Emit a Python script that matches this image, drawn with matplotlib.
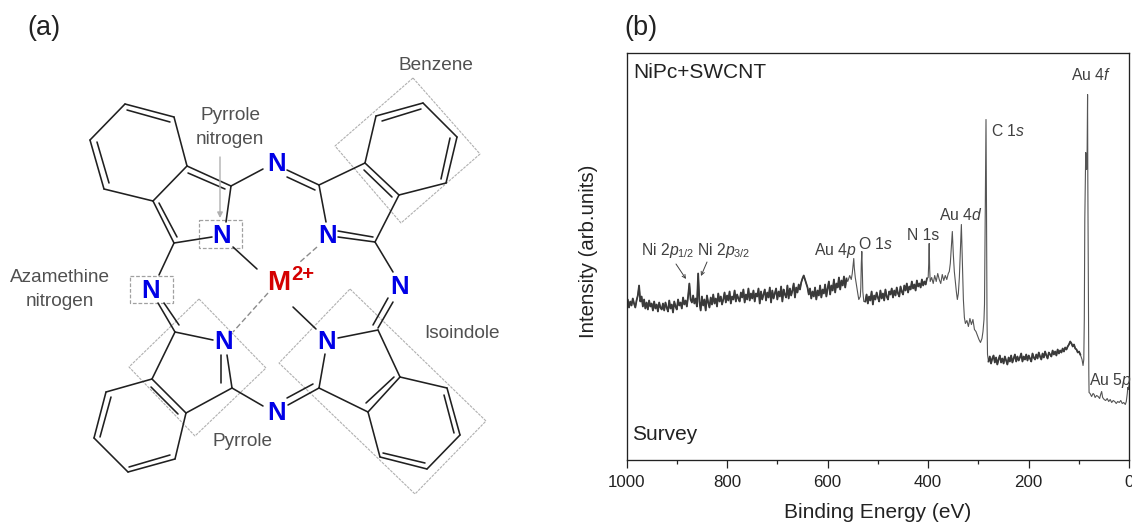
#!/usr/bin/python3
import matplotlib
matplotlib.use('Agg')

import matplotlib.pyplot as plt
import numpy as np

plt.rcParams['font.family'] = ['Liberation Sans', 'DejaVu Sans']
plt.rcParams['mathtext.fontset'] = 'custom'
plt.rcParams['mathtext.rm'] = 'Liberation Sans'
plt.rcParams['mathtext.it'] = 'Liberation Sans:italic'

# Survey spectrum. Noisy stretches are on a regular energy grid.
be_low = np.linspace(1000, 562.5, 176)
counts_low = [
    153, 160, 152, 158, 154, 161, 156, 152, 159, 164,
    174, 158, 163, 153, 160, 151, 157, 150, 159, 153,
    156, 149, 158, 151, 155, 148, 157, 152, 150, 156,
    149, 157, 152, 148, 159, 151, 155, 147, 158, 153,
    150, 160, 154, 157, 151, 162, 155, 159, 153, 163,
    176, 160, 157, 164, 156, 161, 153, 186, 158, 149,
    163, 154, 160, 149, 164, 157, 152, 162, 155, 165,
    156, 161, 153, 166, 158, 163, 155, 160, 167, 157,
    164, 159, 168, 156, 163, 160, 169, 158, 165, 161,
    158, 167, 162, 170, 157, 165, 160, 171, 159, 166,
    161, 169, 158, 166, 163, 171, 156, 168, 160, 165,
    170, 159, 167, 162, 172, 157, 169, 161, 166, 171,
    160, 168, 163, 173, 158, 170, 165, 162, 174, 161,
    171, 164, 169, 176, 162, 172, 167, 175, 170, 177,
    181, 184, 180, 176, 172, 165, 171, 161, 168, 163,
    172, 160, 169, 164, 174, 162, 170, 166, 175, 163,
    171, 178, 165, 174, 169, 180, 167, 176, 172, 182,
    170, 179, 174, 183, 172, 181,
]

be_o1s = [560, 556, 553, 551, 549, 548, 547, 545, 542, 540, 538, 535, 534, 533, 532, 531, 530, 528]
counts_o1s = [178, 184, 180, 186, 196, 201, 192, 182, 172, 166, 160, 163, 172, 196, 208, 190, 168, 158]

be_mid = np.linspace(525, 402.5, 50)
counts_mid = [
    158, 165, 156, 163, 159, 168, 155, 164, 160, 167,
    162, 158, 169, 161, 166, 159, 170, 163, 160, 168,
    165, 171, 162, 169, 164, 172, 166, 163, 173, 168,
    165, 174, 169, 176, 167, 173, 170, 178, 171, 175,
    169, 179, 173, 176, 172, 180, 174, 178, 175, 181,
]

be_au4d = [400, 399, 398, 397, 396, 393, 390, 387, 384, 381, 378, 375, 372, 369, 366, 363, 360,
           358, 356, 354, 352, 350, 348, 346, 344, 342, 340, 338, 336, 334, 332, 330, 328, 326,
           323, 320, 317, 314, 311, 308, 305, 302, 299, 296, 293, 291, 289, 288, 287, 286, 285, 284, 283, 282]
counts_au4d = [182, 195, 216, 190, 178, 182, 176, 184, 178, 186, 180, 176, 185, 179, 184, 180, 186,
               188, 196, 212, 228, 205, 188, 178, 168, 160, 166, 182, 208, 235, 196, 160, 142, 136,
               139, 133, 141, 135, 140, 130, 128, 124, 120, 117, 121, 128, 140, 155, 215, 285, 340, 250, 140, 105]

be_plateau = np.linspace(280, 97.5, 74)
counts_plateau = [
    98, 103, 96, 101, 104, 97, 102, 95, 100, 104,
    97, 101, 96, 103, 99, 95, 102, 98, 104, 97,
    101, 105, 98, 103, 99, 102, 106, 98, 103, 100,
    105, 99, 104, 101, 98, 106, 102, 100, 105, 101,
    107, 103, 100, 106, 102, 108, 104, 101, 107, 105,
    103, 109, 105, 108, 104, 110, 106, 109, 107, 111,
    108, 112, 110, 113, 115, 118, 116, 113, 115, 111,
    110, 107, 108, 105,
]

be_au4f = [94, 92, 90.5, 89.5, 88.5, 86.7, 86, 85, 84, 83, 82.5, 81, 80.5, 80]
counts_au4f = [100, 94, 100, 140, 240, 307, 300, 290, 300, 365, 280, 120, 85, 67]

be_au5p = [78, 75, 72, 70, 68, 65, 62, 59, 57, 55, 53, 50, 47, 44, 41, 38, 35, 32, 29, 26, 23, 20, 17, 14, 11, 8, 6, 4, 3, 2, 1, 0]
counts_au5p = [66, 63, 66, 65, 62, 64, 63, 61, 65, 68, 62, 60, 59, 61, 58, 60, 57, 59, 58, 56, 58, 57, 59, 56, 57, 55, 58, 66, 72, 70, 73, 75]

xticks_major = [1000, 800, 600, 400, 200, 0]
xticks_minor = [900, 700, 500, 300, 100]

# Phthalocyanine sketch, in picture pixels: bonds, dashed bonds, atoms and region boxes
bonds = [
    # top left unit
    ((125, 104), (174, 117)), ((174, 117), (187, 166)), ((187, 166), (153, 201)),
    ((153, 201), (104, 189)), ((104, 189), (90, 140)), ((90, 140), (125, 104)),
    ((127, 110), (170, 122)), ((97, 142), (109, 183)),
    ((187, 166), (231, 186)), ((188, 173), (225, 189)), ((231, 186), (226, 222)),
    ((153, 201), (174, 243)), ((159, 203), (177, 237)), ((174, 243), (212, 237)),
    ((174, 243), (159, 275)), ((233, 247), (257, 269)), ((231, 186), (263, 169)),
    ((287, 170), (319, 185)), ((287, 177), (315, 190)),
    # top right unit
    ((319, 185), (326, 222)), ((319, 185), (365, 163)),
    ((365, 163), (399, 195)), ((364, 170), (392, 197)), ((399, 195), (375, 242)),
    ((338, 231), (373, 237)), ((338, 237), (375, 242)), ((375, 242), (393, 272)),
    ((365, 163), (376, 116)), ((376, 116), (423, 103)), ((423, 103), (457, 137)),
    ((457, 137), (446, 183)), ((446, 183), (399, 195)),
    ((382, 121), (421, 109)), ((450, 138), (441, 179)),
    # bottom left unit
    ((158, 303), (175, 332)), ((164, 303), (179, 325)), ((175, 332), (213, 340)),
    ((175, 332), (152, 379)), ((152, 379), (186, 413)), ((151, 387), (178, 414)),
    ((152, 379), (106, 392)), ((106, 392), (94, 438)), ((94, 438), (128, 472)),
    ((128, 472), (175, 459)), ((175, 459), (186, 413)),
    ((111, 397), (100, 437)), ((129, 467), (170, 455)),
    ((186, 413), (232, 388)), ((221, 355), (221, 383)), ((227, 355), (232, 388)),
    ((232, 388), (263, 406)),
    # bottom right unit
    ((287, 398), (313, 384)), ((288, 405), (319, 388)), ((319, 388), (325, 354)),
    ((319, 388), (368, 412)), ((368, 412), (400, 377)), ((366, 403), (394, 377)),
    ((378, 330), (400, 377)), ((338, 338), (378, 330)),
    ((373, 325), (388, 298)), ((378, 328), (393, 302)),
    ((400, 377), (447, 388)), ((447, 388), (460, 435)), ((460, 435), (427, 469)),
    ((427, 469), (380, 457)), ((380, 457), (368, 412)),
    ((444, 395), (454, 433)), ((383, 453), (425, 463)),
    ((293, 307), (316, 329)),
]
dashed_bonds = [((317, 247), (300, 262)), ((268, 293), (233, 332))]
n_atoms = [(222, 236), (277, 164), (328, 236), (400, 287), (151, 291), (224, 342), (277, 413), (327, 342)]
region_boxes = [
    [(413, 78), (480, 154), (401, 223), (335, 146)],
    [(199, 299), (266, 368), (195, 436), (129, 367)],
    [(350, 289), (486, 421), (415, 494), (279, 363)],
]
nitrogen_boxes = [
    [(199, 220), (242, 220), (242, 248), (199, 248)],
    [(130, 276), (173, 276), (173, 303), (130, 303)],
]

fig = plt.figure(figsize=(11.32, 5.22), dpi=100)
W, H = 1132.0, 522.0

# Spectrum panel
ax = fig.add_axes([626.5 / W, (H - 459.5) / H, 502.8 / W, 406.5 / H])
be = np.concatenate([be_low, be_o1s, be_mid, be_au4d, be_plateau, be_au4f, be_au5p])
counts = np.concatenate([counts_low, counts_o1s, counts_mid, counts_au4d, counts_plateau, counts_au4f, counts_au5p])
ax.plot(be, counts, color='#555555', lw=0.8)
# noisy stretches read as a thick dark band
for e, c in [(be_low, counts_low), (be_mid, counts_mid), (be_plateau, counts_plateau)]:
    ax.plot(e, c, color='#3a3a3a', lw=1.3)
ax.set_xlim(1000, 0)
ax.set_ylim(0, 406.5)
ax.set_yticks([])
ax.set_xticks(xticks_major)
ax.set_xticks(xticks_minor, minor=True)
ax.tick_params(axis='x', which='major', length=5.5, width=0.9, labelsize=12.2, pad=6, color='#222222', labelcolor='#222222')
ax.tick_params(axis='x', which='minor', length=3, width=0.9, color='#222222')
for side in ax.spines.values():
    side.set_linewidth(0.95)
    side.set_color('#222222')

# Overlay in picture pixels, for the sketch and the free labels
ov = fig.add_axes([0, 0, 1, 1])
ov.set_xlim(0, W)
ov.set_ylim(H, 0)
ov.axis('off')
ov.patch.set_alpha(0)

for p0, p1 in bonds:
    ov.plot([p0[0], p1[0]], [p0[1], p1[1]], color='#202020', lw=1.15, solid_capstyle='round')
for p0, p1 in dashed_bonds:
    ov.plot([p0[0], p1[0]], [p0[1], p1[1]], color='#8c8c8c', lw=1.0, ls=(0, (4, 2)))
for box in region_boxes:
    ov.add_patch(plt.Polygon(box, closed=True, fill=False, ec='#b0b0b0', lw=0.8, ls=(0, (2.5, 1))))
for box in nitrogen_boxes:
    ov.add_patch(plt.Polygon(box, closed=True, fill=False, ec='#a0a0a0', lw=0.9, ls=(0, (3, 1.5))))
for x, y in n_atoms:
    ov.text(x, y, 'N', color='#0000e6', fontsize=18.5, fontweight='bold', ha='center', va='center')
ov.text(279, 283, 'M', color='#d40000', fontsize=20, fontweight='bold', ha='center', va='center')
ov.text(303, 275, '2+', color='#d40000', fontsize=14.5, fontweight='bold', ha='center', va='center')
ov.annotate('', xy=(220, 218), xytext=(220, 157),
            arrowprops=dict(arrowstyle='-|>', color='#b0b0b0', lw=1.0, mutation_scale=8, shrinkA=0, shrinkB=0))

grey = '#505050'
for x, y, s in [(436, 65, 'Benzene'), (230, 116, 'Pyrrole'), (230, 139, 'nitrogen'),
                (60, 278, 'Azamethine'), (60, 302, 'nitrogen'),
                (242, 442, 'Pyrrole'), (462, 333, 'Isoindole')]:
    ov.text(x, y, s, color=grey, fontsize=13.7, ha='center', va='center')

ov.text(44, 28, '(a)', fontsize=19.5, color='#222222', ha='center', va='center')
ov.text(641, 28, '(b)', fontsize=19.5, color='#222222', ha='center', va='center')
ov.text(633, 72, 'NiPc+SWCNT', fontsize=15, color='#222222', ha='left', va='center')
ov.text(632, 435, 'Survey', fontsize=15, color='#222222', ha='left', va='center')
ov.text(588, 251, 'Intensity (arb.units)', fontsize=14.7, color='#222222', rotation=90, ha='center', va='center')
ov.text(878, 512, 'Binding Energy (eV)', fontsize=15, color='#222222', ha='center', va='center')

peak_labels = [
    (641, 255, r'Ni 2$\mathit{p}_{\mathit{1/2}}$'), (697, 255, r'Ni 2$\mathit{p}_{\mathit{3/2}}$'),
    (814, 255, r'Au 4$\mathit{p}$'), (858, 249, r'O 1$\mathit{s}$'),
    (907, 240, 'N 1s'), (939, 220, r'Au 4$\mathit{d}$'),
    (991, 136, r'C 1$\mathit{s}$'), (1071, 80, r'Au 4$\mathit{f}$'),
    (1089, 385, r'Au 5$\mathit{p}$'),
]
for x, y, s in peak_labels:
    ov.text(x, y, s, fontsize=11.3, color='#404040', ha='left', va='baseline')

for start, end in [((676, 264), (686, 279)), ((707, 262), (701, 276))]:
    ov.annotate('', xy=end, xytext=start,
                arrowprops=dict(arrowstyle='->', color='#404040', lw=0.7, mutation_scale=6, shrinkA=0, shrinkB=0))

plt.savefig('out.png', dpi=100)
